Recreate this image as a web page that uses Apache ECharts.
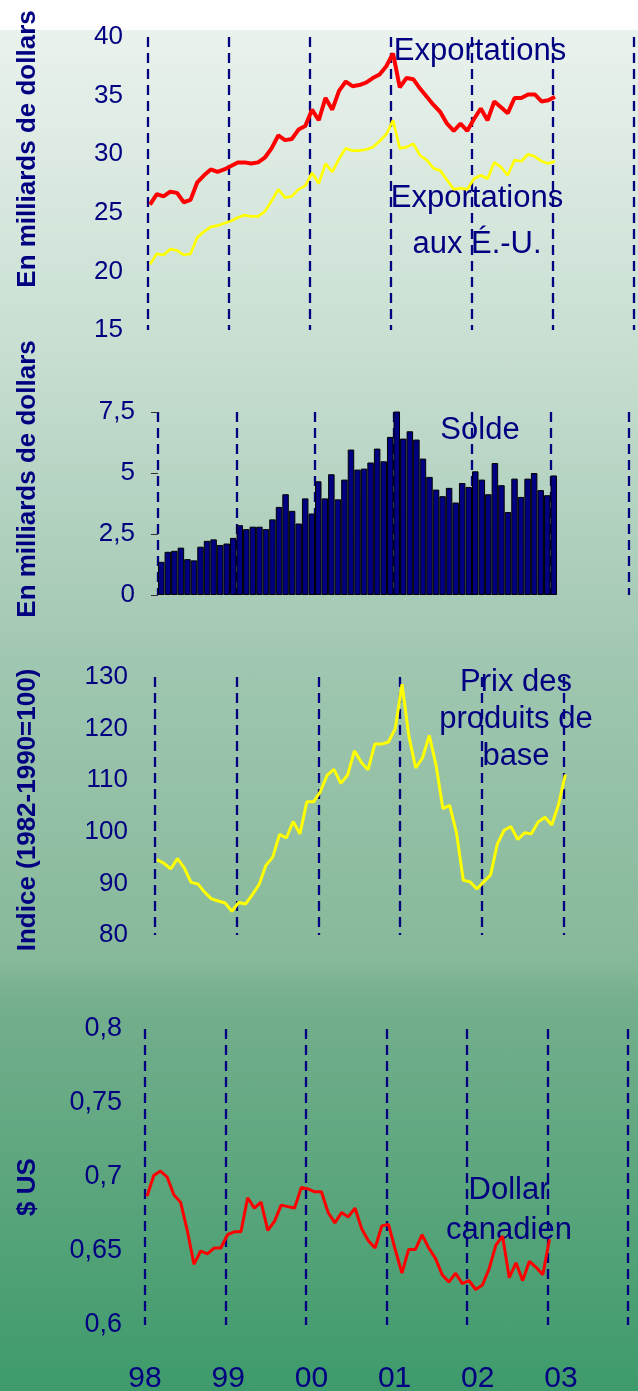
<!DOCTYPE html>
<html><head><meta charset="utf-8">
<script src="https://cdn.jsdelivr.net/npm/echarts@6/dist/echarts.min.js"></script>
<style>
html,body{margin:0;padding:0;}
#c{width:638px;height:1391px;background:linear-gradient(to bottom,#ffffff 0px,#ffffff 30px,#eaf2ed 30px,#c9dfd2 340px,#a0c7b1 660px,#86b999 960px,#75af8d 1000px,#3e9b6b 1391px);}
</style></head><body><div id="c"></div>
<script>
const yearLabels=['98','99','00','01','02','03'];
const exportsTotal=[25.7,26.6,26.4,26.8,26.7,25.9,26.1,27.6,28.2,28.7,
28.5,28.7,29.0,29.3,29.3,29.2,29.3,29.7,30.5,31.6,
31.2,31.3,32.1,32.4,33.8,32.9,34.8,33.8,35.4,36.2,
35.8,35.9,36.1,36.5,36.8,37.5,38.6,35.7,36.5,36.4,
35.6,34.9,34.2,33.6,32.6,32.0,32.6,32.0,33.0,33.9,
32.9,34.5,34.0,33.5,34.8,34.8,35.1,35.1,34.5,34.6,34.9];
const exportsUS=[20.6,21.5,21.4,21.9,21.8,21.4,21.5,22.9,23.4,23.8,
23.9,24.1,24.3,24.6,24.8,24.7,24.7,25.1,26.0,27.0,
26.3,26.4,27.0,27.3,28.4,27.5,29.2,28.5,29.6,30.5,
30.3,30.3,30.4,30.6,31.1,31.7,32.9,30.5,30.6,30.9,
29.9,29.5,28.8,28.6,27.8,27.0,27.1,27.0,27.9,28.2,
27.9,29.3,28.9,28.2,29.5,29.4,30.0,29.8,29.4,29.2,29.4];
const balance=[1.36,1.77,1.81,1.94,1.47,1.42,1.98,2.22,2.28,2.05,
2.11,2.34,2.86,2.70,2.80,2.80,2.70,3.10,3.61,4.13,
3.45,2.93,3.96,3.34,4.66,3.96,4.95,3.92,4.73,5.96,
5.14,5.18,5.43,6.00,5.48,6.48,7.61,6.41,6.71,6.37,
5.59,4.84,4.32,4.05,4.39,3.79,4.59,4.43,5.07,4.73,
4.13,5.41,4.50,3.40,4.77,4.02,4.77,5.00,4.30,4.09,4.90];
const commodity=[94.6,93.9,92.8,94.8,93.0,90.2,89.9,88.3,87.0,86.6,
86.2,84.6,86.3,86.0,87.8,89.8,93.5,95.1,99.5,98.8,
102.0,99.6,105.8,105.8,107.8,111.0,112.1,109.4,111.0,115.7,
113.5,112.0,117.0,117.0,117.4,120.0,128.6,118.6,112.4,114.3,
118.7,112.9,104.5,105.1,99.8,90.6,90.3,88.9,90.3,91.6,
97.6,100.3,101.0,98.5,99.8,99.6,101.9,102.8,101.3,105.3,111.1];
const cad=[0.687,0.701,0.704,0.700,0.688,0.683,0.664,0.641,0.650,0.648,
0.652,0.652,0.661,0.663,0.663,0.686,0.679,0.683,0.664,0.670,
0.681,0.680,0.679,0.693,0.692,0.690,0.690,0.676,0.669,0.676,
0.673,0.679,0.665,0.657,0.652,0.667,0.668,0.651,0.635,0.651,
0.651,0.661,0.652,0.645,0.634,0.629,0.635,0.628,0.630,0.624,
0.627,0.638,0.654,0.660,0.632,0.642,0.630,0.643,0.639,0.634,0.658];

const NAVY='#000080';
const FONT='Liberation Sans';
function xy(arr,off){return arr.map((v,i)=>[i+off,v]);}
function comma(v){return String(Math.round(v*100)/100).replace('.',',');}
function xAx(g){return {type:'value',gridIndex:g,min:0,max:72,interval:12,
  axisLine:{show:false},axisTick:{show:false},axisLabel:{show:false},
  splitLine:{show:true,lineStyle:{color:NAVY,width:2.3,type:[10,6]}}};}
function yAx(g,min,max,interval,margin,fmt,tick,fs){return {type:'value',gridIndex:g,min:min,max:max,interval:interval,
  axisLine:{show:false},axisTick:{show:!!tick,length:7,lineStyle:{color:'#333',width:1}},splitLine:{show:false},
  axisLabel:{color:NAVY,fontFamily:FONT,fontSize:fs,margin:margin,formatter:fmt}};}
function vtitle(text,x,y){return {type:'text',x:x,y:y,rotation:Math.PI/2,z:-1,
  style:{text:text,fill:NAVY,fontFamily:FONT,fontWeight:'bold',fontSize:26,align:'center',verticalAlign:'middle'}};}
function note(text,x,y,lh){return {type:'text',x:x,y:y,z:-1,
  style:{text:text,fill:NAVY,fontFamily:FONT,fontSize:31,lineHeight:lh,align:'center',verticalAlign:'middle'}};}

const chart=echarts.init(document.getElementById('c'),null,{renderer:'canvas'});
chart.setOption({
  animation:false,
  backgroundColor:'transparent',
  grid:[
    {left:148,width:486,top:37,height:293,outerBoundsMode:'none'},
    {left:158,width:471,top:412,height:183,outerBoundsMode:'none'},
    {left:155,width:490,top:677,height:258,outerBoundsMode:'none'},
    {left:145,width:483,top:1029,height:296,outerBoundsMode:'none'},
    {left:145,width:416,top:1330,height:10,outerBoundsMode:'none'}
  ],
  xAxis:[xAx(0),xAx(1),xAx(2),xAx(3),
    {type:'category',gridIndex:4,data:yearLabels,boundaryGap:false,axisLine:{show:false},axisTick:{show:false},splitLine:{show:false},
     axisLabel:{color:NAVY,fontFamily:FONT,fontSize:30,margin:24,interval:0}}],
  yAxis:[
    yAx(0,15,40,5,25,null,false,26),
    yAx(1,0,7.5,2.5,23,comma,true,26),
    yAx(2,80,130,10,27,null,false,26),
    yAx(3,0.6,0.8,0.05,23,comma,false,27),
    {type:'value',gridIndex:4,show:false}
  ],
  graphic:[
    vtitle('En milliards de dollars',28,149),
    vtitle('En milliards de dollars',28,479),
    vtitle('Indice (1982-1990=100)',28,810),
    vtitle('$ US',28,1187),
    note('Exportations',480,51,40),
    note('Exportations\naux É.-U.',477,221,46),
    note('Solde',480,430,40),
    note('Prix des\nproduits de\nbase',516,719,37),
    note('Dollar\ncanadien',509,1210,40)
  ],
  series:[
    {type:'line',xAxisIndex:0,yAxisIndex:0,data:xy(exportsUS,0.3),showSymbol:false,z:3,
      lineStyle:{color:'#ffff00',width:2.7}},
    {type:'line',xAxisIndex:0,yAxisIndex:0,data:xy(exportsTotal,0.3),showSymbol:false,z:4,
      lineStyle:{color:'#ff0000',width:4}},
    {type:'bar',xAxisIndex:1,yAxisIndex:1,data:xy(balance,0.5),barWidth:6.5,
      itemStyle:{color:NAVY,borderColor:'#000000',borderWidth:1}},
    {type:'line',xAxisIndex:2,yAxisIndex:2,data:xy(commodity,0.3),showSymbol:false,z:3,
      lineStyle:{color:'#ffff00',width:3}},
    {type:'line',xAxisIndex:3,yAxisIndex:3,data:xy(cad,0.3),showSymbol:false,z:3,
      lineStyle:{color:'#ff0000',width:3}}
  ]
});
</script></body></html>
